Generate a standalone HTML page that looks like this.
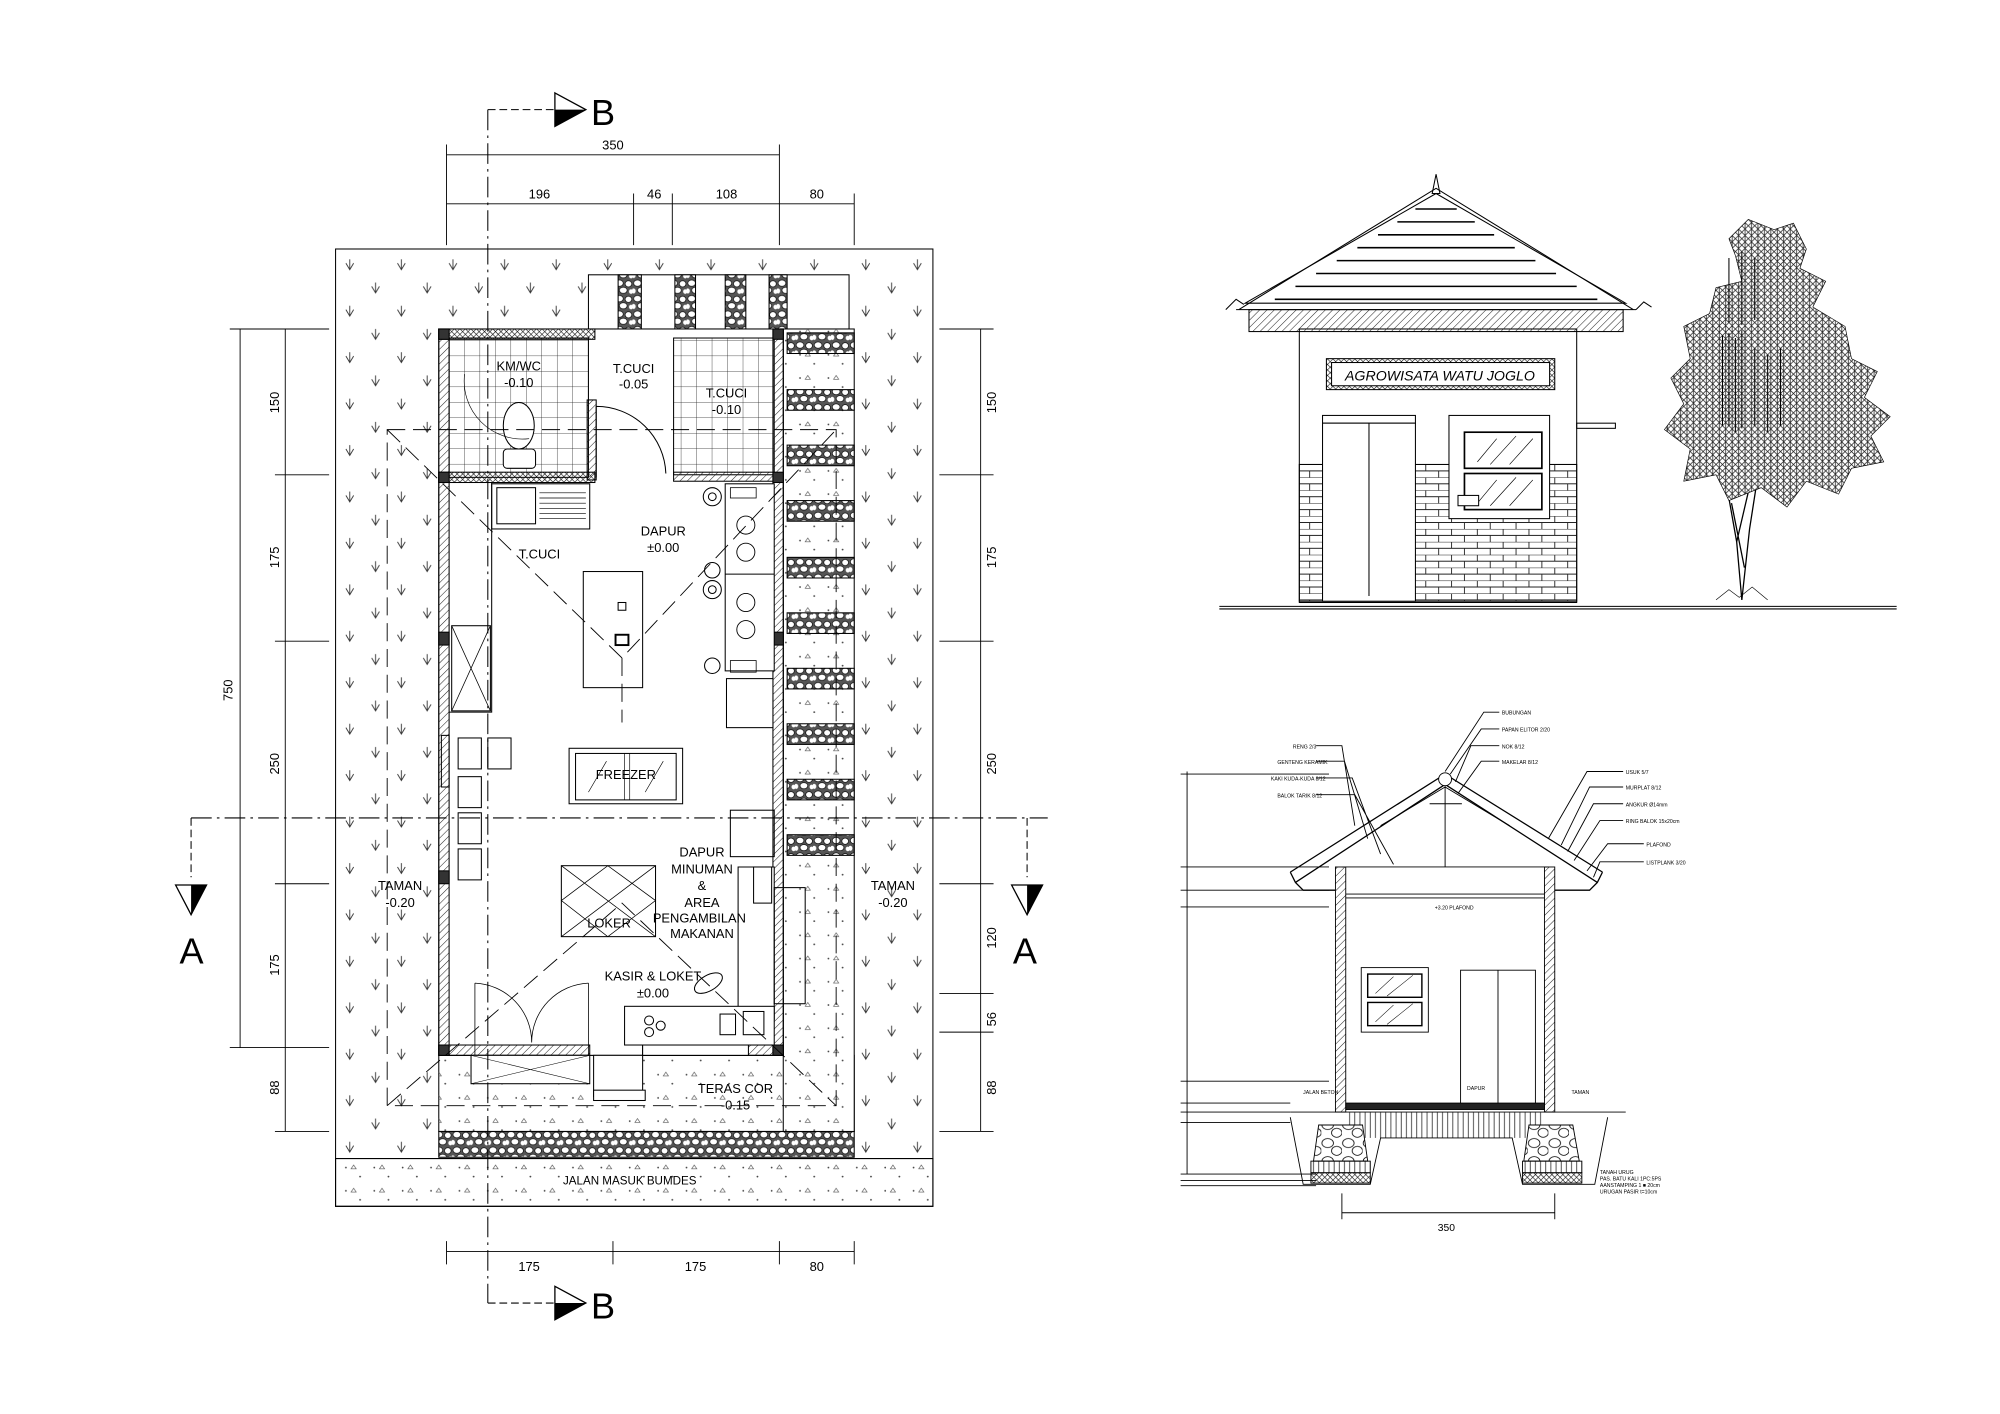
<!DOCTYPE html>
<html><head><meta charset="utf-8"><style>html,body{margin:0;padding:0;background:#fff}svg{display:block}text{font-family:"Liberation Sans",sans-serif}</style></head>
<body>
<svg width="2000" height="1414" viewBox="0 0 1550 1096" xmlns="http://www.w3.org/2000/svg">
<defs>
<pattern id="grass" width="40" height="36" patternUnits="userSpaceOnUse"><path d="M8 6 l3 5 l3 -5 M11 3 v8 M28 24 l3 5 l3 -5 M31 21 v8" stroke="#333" stroke-width="0.7" fill="none"/></pattern>
<pattern id="tile" width="12" height="12" patternUnits="userSpaceOnUse"><path d="M12 0V12M0 12H12" stroke="#222" stroke-width="0.6"/></pattern>
<pattern id="hatch" width="4" height="4" patternUnits="userSpaceOnUse" patternTransform="rotate(45)"><path d="M0 0V4" stroke="#222" stroke-width="0.8"/></pattern>
<pattern id="xhatch" width="3" height="3" patternUnits="userSpaceOnUse" patternTransform="rotate(45)"><path d="M0 0V3M0 0H3" stroke="#111" stroke-width="0.9"/></pattern>
<pattern id="stone" width="14" height="12" patternUnits="userSpaceOnUse"><rect width="14" height="12" fill="#555"/><ellipse cx="4" cy="3.5" rx="3" ry="2.5" fill="#fff" stroke="#000" stroke-width=".5"/><ellipse cx="11" cy="4" rx="2.6" ry="2.4" fill="#fff" stroke="#000" stroke-width=".5"/><ellipse cx="7" cy="9" rx="3" ry="2.4" fill="#fff" stroke="#000" stroke-width=".5"/><ellipse cx="1" cy="9.5" rx="1.6" ry="2" fill="#fff"/><ellipse cx="13" cy="10" rx="1.6" ry="1.8" fill="#fff"/></pattern>
<pattern id="bigstone" width="16" height="14" patternUnits="userSpaceOnUse"><rect width="16" height="14" fill="#fff"/><ellipse cx="5" cy="4" rx="4.5" ry="3.5" fill="none" stroke="#000" stroke-width=".6"/><ellipse cx="12" cy="10" rx="4" ry="3.5" fill="none" stroke="#000" stroke-width=".6"/></pattern>
<pattern id="brick" width="20" height="10" patternUnits="userSpaceOnUse"><path d="M0 0H20M0 5H20M5 0V5M15 5V10" stroke="#222" stroke-width="0.7" fill="none"/></pattern>
<pattern id="vline" width="4" height="10" patternUnits="userSpaceOnUse"><path d="M2 0V10" stroke="#222" stroke-width="0.6"/></pattern>
<pattern id="dots" width="22" height="18" patternUnits="userSpaceOnUse"><circle cx="4" cy="5" r=".7" fill="#444"/><circle cx="15" cy="12" r=".7" fill="#444"/><path d="M10 3l2 3h-4z" fill="none" stroke="#555" stroke-width=".5"/></pattern>
<pattern id="leaf" width="5" height="5" patternUnits="userSpaceOnUse"><rect width="5" height="5" fill="#fff"/><path d="M0 0L5 5M5 0L0 5M2.5 0V5" stroke="#222" stroke-width=".6"/></pattern>
</defs>
<rect width="1550" height="1096" fill="#fff"/>

<!-- ===== PLAN ===== -->
<g stroke="#000" fill="none" stroke-width="0.8">
<rect x="260" y="193" width="463" height="742" fill="url(#grass)"/>
<rect x="260" y="898" width="463" height="37" fill="#fff"/>
<rect x="260" y="898" width="463" height="37" fill="url(#dots)"/>
<rect x="340" y="818" width="322" height="59" fill="#fff"/>
<rect x="340" y="818" width="322" height="59" fill="url(#dots)" stroke="none"/>
<rect x="340" y="877" width="322" height="20" fill="url(#stone)"/>
<rect x="456" y="213" width="202" height="42" fill="#fff"/>
<rect x="479" y="213" width="18" height="42" fill="url(#stone)"/>
<rect x="523" y="213" width="16" height="42" fill="url(#stone)"/>
<rect x="562" y="213" width="16" height="42" fill="url(#stone)"/>
<rect x="596" y="213" width="14" height="42" fill="url(#stone)"/>
<rect x="607" y="255" width="55" height="622" fill="#fff"/>
<rect x="607" y="255" width="55" height="622" fill="url(#dots)" stroke="none"/>
<rect x="610" y="258" width="52" height="16" fill="url(#stone)"/>
<rect x="610" y="302" width="52" height="16" fill="url(#stone)"/>
<rect x="610" y="345" width="52" height="16" fill="url(#stone)"/>
<rect x="610" y="388" width="52" height="16" fill="url(#stone)"/>
<rect x="610" y="432" width="52" height="16" fill="url(#stone)"/>
<rect x="610" y="475" width="52" height="16" fill="url(#stone)"/>
<rect x="610" y="518" width="52" height="16" fill="url(#stone)"/>
<rect x="610" y="561" width="52" height="16" fill="url(#stone)"/>
<rect x="610" y="604" width="52" height="16" fill="url(#stone)"/>
<rect x="610" y="647" width="52" height="16" fill="url(#stone)"/>
<rect x="340" y="255" width="267" height="563" fill="#fff"/>
<rect x="348" y="262" width="108" height="108" fill="url(#tile)"/>
<rect x="522" y="262" width="78" height="106" fill="url(#tile)"/>
<rect x="340" y="255" width="121" height="8" fill="url(#xhatch)"/>
<rect x="340" y="255" width="8" height="563" fill="url(#hatch)"/>
<rect x="599" y="255" width="8" height="563" fill="url(#hatch)"/>
<rect x="340" y="366" width="121" height="8" fill="url(#xhatch)"/>
<rect x="455" y="310" width="7" height="62" fill="url(#hatch)"/>
<rect x="522" y="366" width="78" height="7" fill="url(#hatch)"/>
<rect x="340" y="810" width="117" height="8" fill="url(#hatch)"/>
<rect x="498" y="810" width="109" height="8" fill="url(#hatch)"/>
<rect x="340" y="255" width="8" height="8" fill="#333"/><rect x="599" y="255" width="8" height="8" fill="#333"/>
<rect x="340" y="366" width="8" height="8" fill="#333"/><rect x="340" y="810" width="8" height="8" fill="#333"/><rect x="599" y="810" width="8" height="8" fill="#333"/>
<rect x="340" y="490" width="8" height="10" fill="#333"/><rect x="599" y="490" width="8" height="10" fill="#333"/>
<rect x="340" y="675" width="8" height="10" fill="#333"/><rect x="599" y="366" width="8" height="8" fill="#333"/>
<ellipse cx="402" cy="330" rx="12" ry="18" fill="#fff"/><rect x="390" y="348" width="25" height="15" rx="3" fill="#fff"/>
<path d="M462 315 a54 54 0 0 1 54 52 M462 315 V370" />
<path d="M360 290 a45 45 0 0 0 50 50" stroke-width="0.5"/>
<rect x="381" y="375" width="76" height="35" fill="#fff"/><rect x="385" y="378" width="30" height="28"/><path d="M418 382H454M418 386H454M418 390H454M418 394H454M418 398H454M418 402H454" stroke-width=".5"/>
<path d="M348 374 H381 V552 H348"/>
<rect x="350" y="485" width="30" height="66"/><path d="M350 485 L380 551 M380 485 L350 551" stroke-width=".6"/>
<rect x="562" y="375" width="38" height="145" fill="#fff"/>
<path d="M562 445 H600" />
<circle cx="552" cy="385" r="7"/><circle cx="552" cy="385" r="3"/>
<circle cx="552" cy="442" r="6"/><circle cx="552" cy="457" r="7"/><circle cx="552" cy="457" r="3"/><circle cx="552" cy="516" r="6"/>
<g stroke-width=".7"><circle cx="578" cy="407" r="7"/><circle cx="578" cy="428" r="7"/><circle cx="578" cy="467" r="7"/><circle cx="578" cy="488" r="7"/></g>
<rect x="566" y="378" width="20" height="8" stroke-width=".6"/><rect x="566" y="512" width="20" height="9" stroke-width=".6"/>
<rect x="563" y="526" width="36" height="38" fill="#fff"/>
<rect x="452" y="443" width="46" height="90" fill="#fff"/>
<rect x="479" y="467" width="6" height="6"/><rect x="477" y="492" width="10" height="8" stroke-width="1.5"/>
<rect x="441" y="580" width="88" height="43" fill="#fff"/><rect x="446" y="584" width="78" height="36"/><path d="M484 584V620M488 584V620M456 614L470 590M500 614L514 590" stroke-width=".5"/>
<rect x="355" y="572" width="18" height="24"/><rect x="378" y="572" width="18" height="24"/><rect x="355" y="602" width="18" height="24"/><rect x="355" y="630" width="18" height="24"/><rect x="355" y="658" width="18" height="24"/>
<rect x="342" y="570" width="6" height="40"/>
<rect x="566" y="628" width="34" height="36"/>
<path d="M572 672H600V790H572Z" fill="#fff"/>
<rect x="600" y="688" width="24" height="90"/>
<rect x="584" y="672" width="14" height="28"/>
<rect x="435" y="671" width="73" height="55" fill="#fff"/><path d="M435 671L508 726M508 671L435 726M435 698L471 671L508 698L471 726Z" stroke-width=".6"/>
<rect x="484" y="780" width="116" height="30" fill="#fff"/>
<circle cx="503" cy="791" r="3.5"/><circle cx="512" cy="795" r="3.5"/><circle cx="503" cy="800" r="3.5"/>
<rect x="558" y="786" width="12" height="16"/><rect x="576" y="784" width="16" height="18"/>
<ellipse cx="549" cy="762" rx="12" ry="6" transform="rotate(-30 549 762)"/>
<rect x="498" y="810" width="82" height="8" fill="#fff"/>
<path d="M368 762 V818 M368 762 a46 46 0 0 1 44 46 M456 762 V818 M456 762 a46 46 0 0 0 -44 46" stroke-width=".6"/>
<rect x="365" y="818" width="92" height="22" fill="#fff"/><path d="M365 818L457 840M457 818L365 840" stroke-width=".4"/>
<rect x="460" y="818" width="38" height="32" fill="#fff"/>
<rect x="460" y="845" width="40" height="8" fill="#fff"/>
<g stroke-dasharray="14 6" stroke-width=".7">
<rect x="300" y="333" width="348" height="524"/>
<path d="M300 333 L482 510 L648 333 M482 510 L482 560 M300 857 L482 700 L648 857"/>
</g>
<g stroke-dasharray="16 4 2 4" stroke-width=".8">
<path d="M148 634 H812"/>
<path d="M378 85 V1010"/>
</g>
<path d="M378 85 H430 M378 1010 H430" stroke-dasharray="6 3"/>
<path d="M148 634 V680 M796 634 V680" stroke-dasharray="6 3"/>
</g>
<path d="M430 72 L454 85 L430 98 Z" fill="#fff" stroke="#000"/><path d="M430 98 L454 85 L430 85Z" fill="#000"/>
<path d="M430 997 L454 1010 L430 1023 Z" fill="#fff" stroke="#000"/><path d="M430 1023 L454 1010 L430 1010Z" fill="#000"/>
<path d="M136 686 L160 686 L148 709 Z" fill="#fff" stroke="#000"/><path d="M148 686 L160 686 L148 709Z" fill="#000"/>
<path d="M784 686 L808 686 L796 709 Z" fill="#fff" stroke="#000"/><path d="M796 686 L808 686 L796 709Z" fill="#000"/>
<g font-size="28" fill="#000"><text x="458" y="97">B</text><text x="458" y="1022">B</text><text x="139" y="747">A</text><text x="785" y="747">A</text></g>
<g stroke="#000" stroke-width=".7" fill="none">
<path d="M346 120H604 M346 158H662 M346 970H662"/>
<path d="M346 112V190 M604 112V190 M491 150V190 M521 150V190 M662 150V190"/>
<path d="M346 962V980 M475 962V980 M604 962V980 M662 962V980"/>
<path d="M186 255V812 M221 255V877 M178 255H255 M178 812H255 M213 368H255 M213 497H255 M213 685H255 M213 877H255"/>
<path d="M760 255V877 M728 255H770 M728 368H770 M728 497H770 M728 685H770 M728 770H770 M728 800H770 M728 877H770"/>
</g>
<g font-size="10" fill="#000" text-anchor="middle">
<text x="475" y="116">350</text><text x="418" y="154">196</text><text x="507" y="154">46</text><text x="563" y="154">108</text><text x="633" y="154">80</text>
<text x="410" y="985">175</text><text x="539" y="985">175</text><text x="633" y="985">80</text>
<text transform="translate(180 535) rotate(-90)">750</text>
<text transform="translate(216 312) rotate(-90)">150</text><text transform="translate(216 432) rotate(-90)">175</text><text transform="translate(216 592) rotate(-90)">250</text><text transform="translate(216 748) rotate(-90)">175</text><text transform="translate(216 843) rotate(-90)">88</text>
<text transform="translate(772 312) rotate(-90)">150</text><text transform="translate(772 432) rotate(-90)">175</text><text transform="translate(772 592) rotate(-90)">250</text><text transform="translate(772 727) rotate(-90)">120</text><text transform="translate(772 790) rotate(-90)">56</text><text transform="translate(772 843) rotate(-90)">88</text>
<text x="402" y="287">KM/WC</text><text x="402" y="300">-0.10</text>
<text x="491" y="289">T.CUCI</text><text x="491" y="301">-0.05</text>
<text x="563" y="308">T.CUCI</text><text x="563" y="321">-0.10</text>
<text x="514" y="415">DAPUR</text><text x="514" y="428">±0.00</text>
<text x="418" y="433">T.CUCI</text>
<text x="485" y="604">FREEZER</text>
<text x="544" y="664">DAPUR</text><text x="544" y="677">MINUMAN</text><text x="544" y="690">&amp;</text><text x="544" y="703">AREA</text><text x="542" y="715">PENGAMBILAN</text><text x="544" y="727">MAKANAN</text>
<text x="472" y="719">LOKER</text>
<text x="506" y="760">KASIR &amp; LOKET</text><text x="506" y="773">±0.00</text>
<text x="310" y="690">TAMAN</text><text x="310" y="703">-0.20</text>
<text x="692" y="690">TAMAN</text><text x="692" y="703">-0.20</text>
<text x="570" y="847">TERAS COR</text><text x="570" y="860">-0.15</text>
<text x="488" y="918" font-size="9">JALAN MASUK BUMDES</text>
</g>

<!-- ===== ELEVATION ===== -->
<g stroke="#000" fill="none" stroke-width="0.8">
<path d="M945 470H1470 M945 472H1470" />
<rect x="1007" y="255" width="215" height="212" fill="#fff"/>
<rect x="1007" y="360" width="215" height="106" fill="url(#brick)"/>
<rect x="1025" y="322" width="72" height="6" fill="#fff"/>
<rect x="1025" y="328" width="72" height="138" fill="#fff"/><path d="M1061 328V462"/>
<rect x="1123" y="322" width="78" height="80" fill="#fff"/>
<rect x="1135" y="335" width="60" height="28" stroke-width="1.3"/><rect x="1135" y="367" width="60" height="28" stroke-width="1.3"/>
<path d="M1145 358L1160 340M1155 360L1175 338M1170 360L1188 340M1145 390L1160 372M1155 392L1175 370M1170 392L1188 372" stroke-width=".5"/>
<rect x="1130" y="384" width="16" height="8" fill="#fff"/>
<rect x="1222" y="328" width="30" height="4"/>
<rect x="1028" y="278" width="177" height="24" fill="url(#xhatch)"/><rect x="1032" y="281" width="169" height="18" fill="#fff"/>
<path d="M965 235 L1113 150 L1260 235 Z" fill="#fff"/>
<path d="M1110 150 L1113 135 L1116 150Z" fill="#fff"/>
<g stroke-width="1.2"><path d="M1097 162H1129 M1083 172H1143 M1068 182H1158 M1052 192H1174 M1036 202H1190 M1020 212H1206 M1004 222H1222 M988 232H1238"/></g>
<path d="M960 240 L1113 146 L1266 240 M958 240H1268"/>
<rect x="968" y="240" width="290" height="17" fill="url(#hatch)"/>
<path d="M950 240 l8 -8 l6 4 M1268 240 l6 -6 l6 4"/>
</g>
<text x="1116" y="295" font-size="11" text-anchor="middle" font-style="italic">AGROWISATA WATU JOGLO</text>
<!-- tree -->
<g stroke="#000" stroke-width=".5">
<path d="M1350 465 L1346 420 L1330 330 M1350 465 L1356 410 L1370 320 M1346 420 L1360 360 M1352 440 L1342 390" fill="none" stroke-width="1"/>
<g fill="url(#leaf)">
<path d="M1340 185 l15 -15 l20 8 l15 -5 l10 20 l-5 15 l20 10 l-10 20 l25 15 l5 25 l20 10 l-10 20 l20 15 l-15 15 l10 20 l-25 5 l-10 20 l-25 -10 l-15 20 l-20 -15 l-25 10 l-10 -20 l-25 5 l5 -25 l-20 -15 l15 -20 l-10 -20 l15 -15 l-5 -25 l20 -10 l5 -20 l20 -5 l-5 -20 z"/>
</g>
<path d="M1335 260 V330 M1340 258 V330 M1345 262 V335 M1350 256 V332 M1360 270 V330 M1370 275 V335 M1380 270 V330 M1340 200 V250 M1350 195 V252 M1360 200 V248" stroke="#000" stroke-width=".8"/>
<path d="M1330 465 l10 -8 l8 6 l10 -8 l12 10" fill="none"/>
</g>

<!-- ===== SECTION ===== -->
<g stroke="#000" fill="none" stroke-width="0.7">
<path d="M920 598V910"/>
<path d="M915 600H1030 M915 672H1030 M915 690H1030 M915 703H1030 M915 838H1030 M915 855H1000 M915 862H1000 M915 870H1000 M915 910H1020 M915 915H1020 M915 919H1020"/>
<path d="M1000 676 L1120 600 L1242 676 M1004 684 L1120 608 L1238 684 M1000 676 L1004 684 L1010 690 H1035 M1242 676 L1238 684 L1232 690 H1205" stroke-width="1"/>
<path d="M1040 672H1200 M1120 608V672 M1070 640L1120 610L1170 640M1108 623H1133"/>
<circle cx="1120" cy="604" r="5" fill="#fff"/>
<rect x="1035" y="672" width="8" height="190" fill="url(#hatch)"/><rect x="1197" y="672" width="8" height="190" fill="url(#hatch)"/>
<path d="M1043 693H1197 M1043 696H1197"/>
<rect x="1055" y="750" width="52" height="50"/><rect x="1060" y="755" width="42" height="18" stroke-width="1.1"/><rect x="1060" y="777" width="42" height="18" stroke-width="1.1"/>
<path d="M1066 770L1080 757M1075 772L1095 756M1066 792L1080 779M1075 794L1095 778" stroke-width=".4"/>
<rect x="1132" y="752" width="58" height="106"/><path d="M1161 752V858"/>
<rect x="1043" y="855" width="154" height="5" fill="#222"/>
<path d="M1000 862H1260"/>
<rect x="1043" y="862" width="154" height="20" fill="url(#vline)" stroke="none"/>
<path d="M1000 866 L1010 918 H1062 L1070 882 H1172 L1180 918 H1236 L1246 866" />
<path d="M1022 872 H1056 L1060 900 H1018Z M1185 872 H1219 L1224 900 H1181Z" fill="url(#bigstone)"/>
<rect x="1016" y="900" width="46" height="9" fill="url(#vline)"/><rect x="1180" y="900" width="46" height="9" fill="url(#vline)"/>
<rect x="1016" y="909" width="46" height="8" fill="url(#xhatch)"/><rect x="1180" y="909" width="46" height="8" fill="url(#xhatch)"/>
<path d="M1040 925V945 M1205 925V945 M1040 940H1205"/>
<path d="M1120 598L1150 552H1162 M1124 600L1148 565H1162 M1128 606L1140 578H1162 M1130 615L1148 590H1162 M1050 640L1040 578H1020 M1060 650L1042 590H1020 M1070 662L1048 603H1020 M1080 670L1050 616H1020 M1200 650L1230 598H1258 M1210 655L1232 610H1258 M1215 660L1235 623H1258 M1220 667L1240 636H1258 M1230 675L1246 654H1274 M1235 680L1240 668H1274"/>
</g>
<g font-size="4" fill="#000">
<text x="1164" y="554">BUBUNGAN</text><text x="1164" y="567">PAPAN ELITOR 2/20</text><text x="1164" y="580">NOK 8/12</text><text x="1164" y="592">MAKELAR 8/12</text>
<text x="1002" y="580">RENG 2/3</text><text x="990" y="592">GENTENG KERAMIK</text><text x="985" y="605">KAKI KUDA-KUDA 8/12</text><text x="990" y="618">BALOK TARIK 8/12</text>
<text x="1260" y="600">USUK 5/7</text><text x="1260" y="612">MURPLAT 8/12</text><text x="1260" y="625">ANGKUR Ø14mm</text><text x="1260" y="638">RING BALOK 15x20cm</text><text x="1276" y="656">PLAFOND</text><text x="1276" y="670">LISTPLANK 3/20</text>
<text x="1240" y="910">TANAH URUG</text><text x="1240" y="915">PAS. BATU KALI 1PC:5PS</text><text x="1240" y="920">AANSTAMPING 1 ■ 20cm</text><text x="1240" y="925">URUGAN PASIR t=10cm</text>
<text x="1112" y="705">+3.20 PLAFOND</text><text x="1137" y="845">DAPUR</text><text x="1010" y="848">JALAN BETON</text><text x="1218" y="848">TAMAN</text>
</g>
<text x="1121" y="954" font-size="8" text-anchor="middle">350</text>
</svg>
</body></html>
